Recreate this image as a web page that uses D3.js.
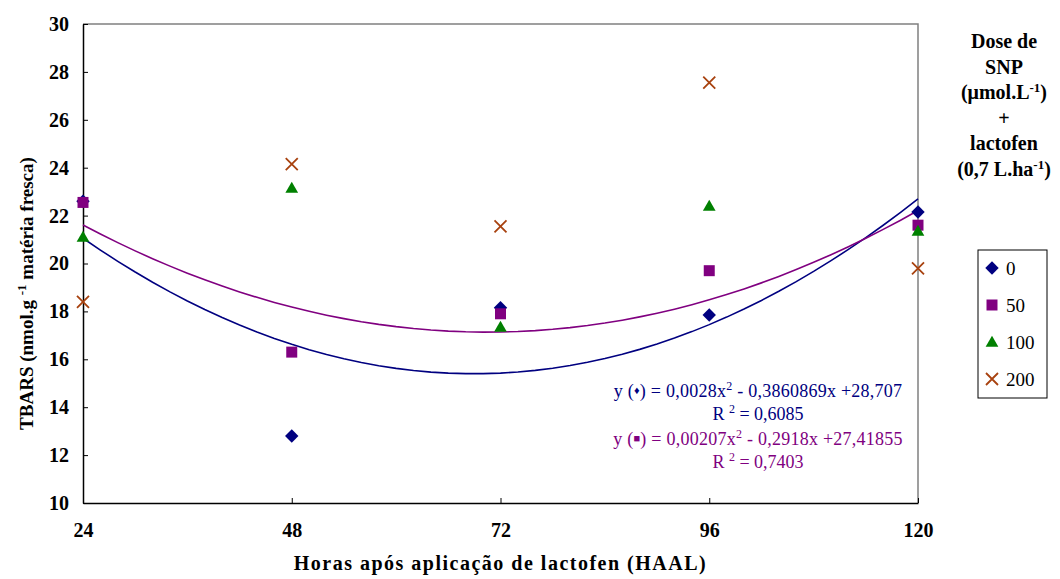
<!DOCTYPE html>
<meta charset="utf-8">
<style>
body { margin: 0; background: #fff; }
</style>
<body>
<svg id="chart" width="1060" height="579"></svg>
<script src="https://d3js.org/d3.v7.min.js"></script>
<script>

// horas apos aplicacao (HAAL)
var hours = [24, 48, 72, 96, 120];
var yTicks = [10, 12, 14, 16, 18, 20, 22, 24, 26, 28, 30];

// TBARS por dose de SNP
var doses = ["0", "50", "100", "200"];
var tbars0   = [22.6, 12.8, 18.15, 17.85, 22.15];
var tbars50  = [22.55, 16.3, 17.9, 19.7, 21.6];
var tbars100 = [21.1, 23.15, 17.35, 22.4, 21.35];
var tbars200 = [18.4, 24.15, 21.55, 27.55, 19.8];

// coeficientes das equacoes mostradas no grafico (a x^2 + b x + c)
var trend0  = [0.0028, -0.3860869, 28.707];
var trend50 = [0.00207, -0.2918, 27.41855];

var colors = ["#000080", "#800080", "#008000", "#a8420f"];
var serif = "'Liberation Serif', 'Times New Roman', serif";

var margin = {top: 24, right: 142, bottom: 76, left: 83},
    width = 1060 - margin.left - margin.right,
    height = 579 - margin.top - margin.bottom;

var x = d3.scaleLinear().domain([24, 120]).range([0, width]);
var y = d3.scaleLinear().domain([10, 30]).range([height, 0]);

var svg = d3.select("#chart").style("font-family", serif);
var g = svg.append("g")
    .attr("transform", "translate(" + margin.left + "," + margin.top + ")");

// borda da area do grafico (topo e direita cinza)
g.append("path")
    .attr("d", "M0,0H" + width + "V" + height)
    .attr("fill", "none")
    .attr("stroke", "#808080")
    .attr("stroke-width", 1.5);

var xAxis = d3.axisBottom(x).tickValues(hours).tickSizeInner(-5).tickSizeOuter(0).tickPadding(16);
var yAxis = d3.axisLeft(y).tickValues(yTicks).tickSizeInner(-5).tickSizeOuter(0).tickPadding(14);

function styleAxis(s) {
  s.attr("font-family", null).attr("font-size", null);
  s.select(".domain").attr("stroke-width", 1.5);
  s.selectAll(".tick text")
      .style("font-family", serif)
      .style("font-weight", "bold")
      .style("font-size", "20px")
      .attr("fill", "#000");
}

g.append("g")
    .attr("transform", "translate(0," + height + ")")
    .call(xAxis)
    .call(styleAxis)
    .call(function(s) { s.selectAll(".tick text").attr("dy", "0.9em"); });

g.append("g")
    .call(yAxis)
    .call(styleAxis);

// linhas de tendencia
var line = d3.line()
    .x(function(d) { return x(d[0]); })
    .y(function(d) { return y(d[1]); });

function curve(c) {
  return d3.range(24, 120.5, 2).map(function(h) {
    return [h, c[0] * h * h + c[1] * h + c[2]];
  });
}

[[trend0, colors[0]], [trend50, colors[1]]].forEach(function(t) {
  g.append("path")
      .datum(curve(t[0]))
      .attr("fill", "none")
      .attr("stroke", t[1])
      .attr("stroke-width", 1.6)
      .attr("d", line);
});

// marcadores
var diamond = d3.symbol().type(d3.symbolSquare).size(90);
var square = d3.symbol().type(d3.symbolSquare).size(121);
var triangle = d3.symbol().type(d3.symbolTriangle).size(70);
var cross = "M-6,-6L6,6M-6,6L6,-6";

function marker(sel, i) {
  if (i == 0) sel.append("path").attr("d", diamond()).attr("transform", "rotate(45)").attr("fill", colors[0]);
  else if (i == 1) sel.append("path").attr("d", square()).attr("fill", colors[1]);
  else if (i == 2) sel.append("path").attr("d", triangle()).attr("transform", "translate(0,1)").attr("fill", colors[2]);
  else sel.append("path").attr("d", cross).attr("fill", "none").attr("stroke", colors[3]).attr("stroke-width", 1.8);
}

[tbars0, tbars50, tbars100, tbars200].forEach(function(series, i) {
  g.selectAll(".dot" + i)
      .data(series)
    .enter().append("g")
      .attr("class", "dot" + i)
      .attr("transform", function(d, j) { return "translate(" + x(hours[j]) + "," + y(d) + ")"; })
      .each(function() { marker(d3.select(this), i); });
});

// titulos dos eixos
svg.append("text")
    .attr("x", margin.left + width / 2)
    .attr("y", 570)
    .attr("text-anchor", "middle")
    .style("font-weight", "bold")
    .style("font-size", "20px")
    .style("letter-spacing", "1.5px")
    .text("Horas após aplicação de lactofen (HAAL)");

var yt = svg.append("text")
    .attr("transform", "translate(33," + (margin.top + height / 2 + 30) + ") rotate(-90)")
    .attr("text-anchor", "middle")
    .style("font-weight", "bold")
    .style("font-size", "19px");
yt.append("tspan").text("TBARS (nmol.g ");
yt.append("tspan").attr("dy", -7).style("font-size", "13px").text("-1");
yt.append("tspan").attr("dy", 7).text(" matéria fresca)");

// titulo da legenda
var titleLines = [["Dose de"], ["SNP"], ["(μmol.L", "-1", ")"], ["+"], ["lactofen"], ["(0,7 L.ha", "-1", ")"]];
titleLines.forEach(function(parts, i) {
  var t = svg.append("text")
      .attr("x", 1004)
      .attr("y", 48 + i * 25.5)
      .attr("text-anchor", "middle")
      .style("font-weight", "bold")
      .style("font-size", "20px");
  t.append("tspan").text(parts[0]);
  if (parts.length > 1) {
    t.append("tspan").attr("dy", -7).style("font-size", "13px").text(parts[1]);
    t.append("tspan").attr("dy", 7).text(parts[2]);
  }
});

// legenda
var legend = svg.append("g");
legend.append("rect")
    .attr("x", 978).attr("y", 250)
    .attr("width", 69).attr("height", 148)
    .attr("fill", "none")
    .attr("stroke", "#000")
    .attr("stroke-width", 1);

doses.forEach(function(d, i) {
  var item = legend.append("g")
      .attr("transform", "translate(992," + (268 + i * 37) + ")");
  marker(item, i);
  item.append("text")
      .attr("x", 14)
      .attr("y", 7)
      .style("font-size", "19px")
      .text(d);
});

// equacoes
function equation(yy, color, sym, a, rest) {
  var t = svg.append("text")
      .attr("x", 758).attr("y", yy)
      .attr("text-anchor", "middle")
      .attr("fill", color)
      .style("font-size", "18px")
      .style("letter-spacing", "0.25px");
  t.append("tspan").text("y (");
  t.append("tspan").style("font-size", "11px").attr("dy", -3).text(sym);
  t.append("tspan").attr("dy", 3).text(") = " + a + "x");
  t.append("tspan").attr("dy", -7).style("font-size", "12px").text("2");
  t.append("tspan").attr("dy", 7).text(rest);
}
function rsq(yy, color, v) {
  var t = svg.append("text")
      .attr("x", 758).attr("y", yy)
      .attr("text-anchor", "middle")
      .attr("fill", color)
      .style("font-size", "18px");
  t.append("tspan").text("R ");
  t.append("tspan").attr("dy", -7).style("font-size", "12px").text("2");
  t.append("tspan").attr("dy", 7).text(" = " + v);
}
equation(397, colors[0], "♦", "0,0028", " - 0,3860869x +28,707");
rsq(420, colors[0], "0,6085");
equation(445, colors[1], "■", "0,00207", " - 0,2918x +27,41855");
rsq(468, colors[1], "0,7403");

</script>
</body>
